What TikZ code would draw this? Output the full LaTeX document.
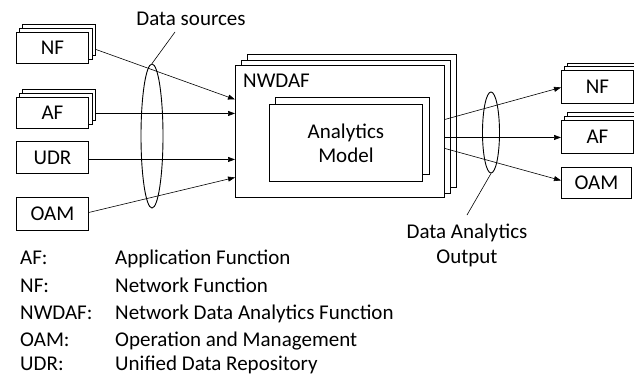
\documentclass[tikz,border=0pt]{standalone}
\usepackage{fontspec}
\setmainfont{Carlito}
\usetikzlibrary{shapes.geometric,arrows.meta}
\begin{document}
\begin{tikzpicture}[x=1pt,y=-1pt,
  every node/.style={font=\fontsize{21}{25}\selectfont},
  box/.style={draw,fill=white,line width=0.9pt,inner sep=0pt,anchor=north west},
  conn/.style={line width=0.6pt,-{Triangle[length=7pt,width=5pt]}},
  lead/.style={line width=0.6pt},
  oval/.style={draw,ellipse,line width=0.9pt,inner sep=0pt},
  txt/.style={inner sep=0pt}]
\useasboundingbox (0,0) rectangle (634,375);
% left source boxes
\node[box,minimum width=73pt,minimum height=31pt] (nf3) at (22,24) {};
\node[box,minimum width=73pt,minimum height=31pt] (nf2) at (19,28) {};
\node[box,minimum width=72pt,minimum height=31pt] (nf) at (16,32) {NF};
\node[box,minimum width=73pt,minimum height=31pt] (af3) at (22,89) {};
\node[box,minimum width=73pt,minimum height=31pt] (af2) at (19,93) {};
\node[box,minimum width=72pt,minimum height=31pt] (af) at (16,97) {AF};
\node[box,minimum width=72pt,minimum height=32pt] (udr) at (16,141) {UDR};
\node[box,minimum width=72pt,minimum height=33pt] (oam) at (16,197) {OAM};
% NWDAF stack
\node[box,minimum width=209pt,minimum height=133pt] (nw3) at (247,54) {};
\node[box,minimum width=209pt,minimum height=133pt] (nw2) at (241,59.5) {};
\node[box,minimum width=209pt,minimum height=132pt] (nw) at (235,65) {};
\node[txt,anchor=base west] (nwl) at (243,87) {NWDAF};
\node[box,minimum width=154pt,minimum height=77pt] (am2) at (275,96.5) {};
\node[box,minimum width=153pt,minimum height=77pt,align=center] (am) at (269,104) {Analytics\\[-1pt]Model};
% right target boxes
\node[box,minimum width=73pt,minimum height=33pt] (rnf3) at (567,62.5) {};
\node[box,minimum width=73pt,minimum height=33pt] (rnf2) at (564,66) {};
\node[box,minimum width=72pt,minimum height=33pt] (rnf) at (561,70) {NF};
\node[box,minimum width=73pt,minimum height=33pt] (raf3) at (567,112) {};
\node[box,minimum width=73pt,minimum height=33pt] (raf2) at (564,116) {};
\node[box,minimum width=72pt,minimum height=33pt] (raf) at (561,120) {AF};
\node[box,minimum width=70pt,minimum height=31pt] (roam) at (561,167) {OAM};
% input connectors
\draw[conn] ([yshift=-9.5pt]nf3.east) -- ([yshift=32pt]nw.west);
\draw[conn] ([yshift=-8.5pt]af3.east) -- ([yshift=18pt]nw.west);
\draw[conn] ([yshift=-2pt]udr.east) -- ([yshift=-28pt]nw.west);
\draw[conn] ([yshift=1.5pt]oam.east) -- ([yshift=-46pt]nw.west);
% output connectors
\draw[conn] ([yshift=12pt]nw.east) -- ([yshift=-0.5pt]rnf.west);
\draw[conn] ([yshift=-6pt]nw.east) -- ([yshift=-0.5pt]raf.west);
\draw[conn] ([yshift=-17pt]nw.east) -- ([yshift=2.5pt]roam.west);
% ellipses and labels
\node[oval,minimum width=22pt,minimum height=144pt] (ds) at (152,136) {};
\node[txt] (dsl) at (191,19) {Data sources};
\coordinate (dsend) at (175,32);
\draw[lead] (ds.north) -- (dsend);
\node[oval,minimum width=17pt,minimum height=81pt] (dao) at (491,132.5) {};
\node[txt,align=center] (daol) at (467,245) {Data Analytics\\Output};
\coordinate (daoend) at (467,215);
\draw[lead] (dao.south) -- (daoend);
% legend
\node[txt,anchor=base west] (k1) at (20,264.5) {AF:};
\node[txt,anchor=base west] (v1) at (115,264.5) {Application Function};
\node[txt,anchor=base west] (k2) at (20,292) {NF:};
\node[txt,anchor=base west] (v2) at (115,292) {Network Function};
\node[txt,anchor=base west] (k3) at (20,319) {NWDAF:};
\node[txt,anchor=base west] (v3) at (115,319) {Network Data Analytics Function};
\node[txt,anchor=base west] (k4) at (20,346) {OAM:};
\node[txt,anchor=base west] (v4) at (115,346) {Operation and Management};
\node[txt,anchor=base west] (k5) at (20,370.5) {UDR:};
\node[txt,anchor=base west] (v5) at (115,370.5) {Unified Data Repository};
\end{tikzpicture}
\end{document}
